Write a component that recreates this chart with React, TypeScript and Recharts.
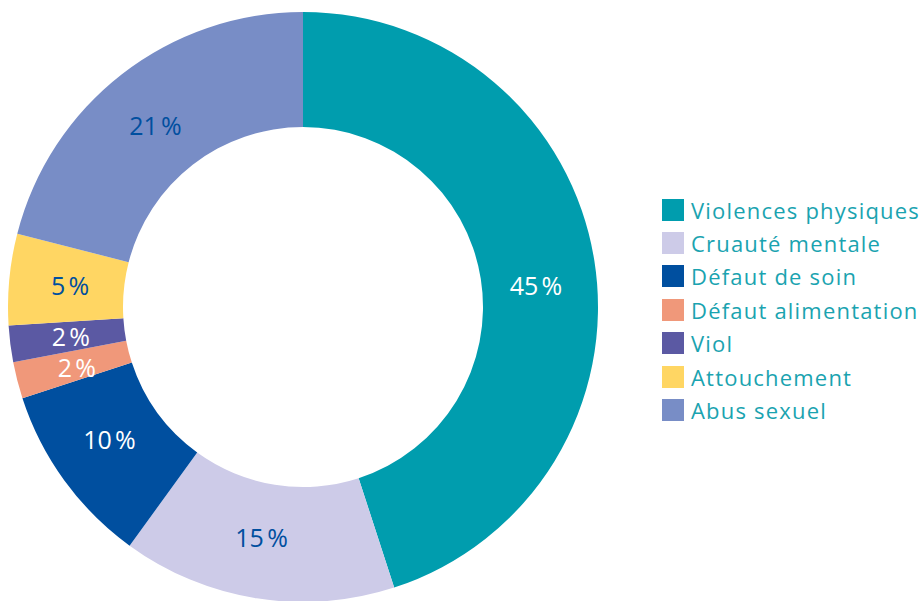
import React from "react";
import { PieChart, Pie, Cell, Legend } from "recharts";

const categories = [
  "Violences physiques",
  "Cruauté mentale",
  "Défaut de soin",
  "Défaut alimentation",
  "Viol",
  "Attouchement",
  "Abus sexuel",
];
const values = [45, 15, 10, 2, 2, 5, 21];
const colors = ["#009DAE", "#CDCBE8", "#004F9F", "#F0987A", "#5B59A3", "#FFD663", "#788DC6"];
const labelColors = ["#FFFFFF", "#004F9F", "#FFFFFF", "#FFFFFF", "#FFFFFF", "#004F9F", "#004F9F"];
// small angular nudges (degrees) applied to each slice's label position
const labelNudge = [-3.6, -1.2, -1.8, 0.4, 0, 0, 1.3];

const data = categories.map((name, i) => ({ name, value: values[i] }));

const FONT = "'Open Sans', 'Noto Sans', sans-serif";
const RAD = Math.PI / 180;

const renderLabel = (props: any) => {
  const { cx, cy, midAngle, index } = props;
  const r = 234;
  const a = midAngle + labelNudge[index];
  const x = cx + r * Math.cos(-a * RAD);
  const y = cy + r * Math.sin(-a * RAD);
  return (
    <text
      x={x}
      y={y}
      fill={labelColors[index]}
      textAnchor="middle"
      dominantBaseline="central"
      fontFamily={FONT}
      fontSize={25}
      fontWeight={400}
    >
      {values[index] + "\u202F%"}
    </text>
  );
};

const LegendContent = () => (
  <div style={{ fontFamily: FONT }}>
    {categories.map((c, i) => (
      <div key={c} style={{ display: "flex", alignItems: "center", height: 33.4 }}>
        <div style={{ width: 22, height: 22, background: colors[i], marginRight: 7, flexShrink: 0 }} />
        <span style={{ color: "#1AA3B0", fontSize: 22, lineHeight: "22px", letterSpacing: 1.2, whiteSpace: "nowrap" }}>{c}</span>
      </div>
    ))}
  </div>
);

export default function App() {
  return (
    <div style={{ position: "absolute", left: 0, top: 0, width: 924, height: 601, background: "#fff" }}>
      <PieChart width={924} height={601} margin={{ top: 0, right: 0, bottom: 0, left: 0 }}>
        <Pie
          data={data}
          dataKey="value"
          cx={303}
          cy={307}
          innerRadius={180}
          outerRadius={295}
          startAngle={90}
          endAngle={-270}
          stroke="none"
          label={renderLabel}
          labelLine={false}
          isAnimationActive={false}
        >
          {data.map((d, i) => (
            <Cell key={d.name} fill={colors[i]} />
          ))}
        </Pie>
        <Legend
          content={<LegendContent />}
          wrapperStyle={{ position: "absolute", left: 662, top: 193, width: 262 }}
        />
      </PieChart>
    </div>
  );
}
